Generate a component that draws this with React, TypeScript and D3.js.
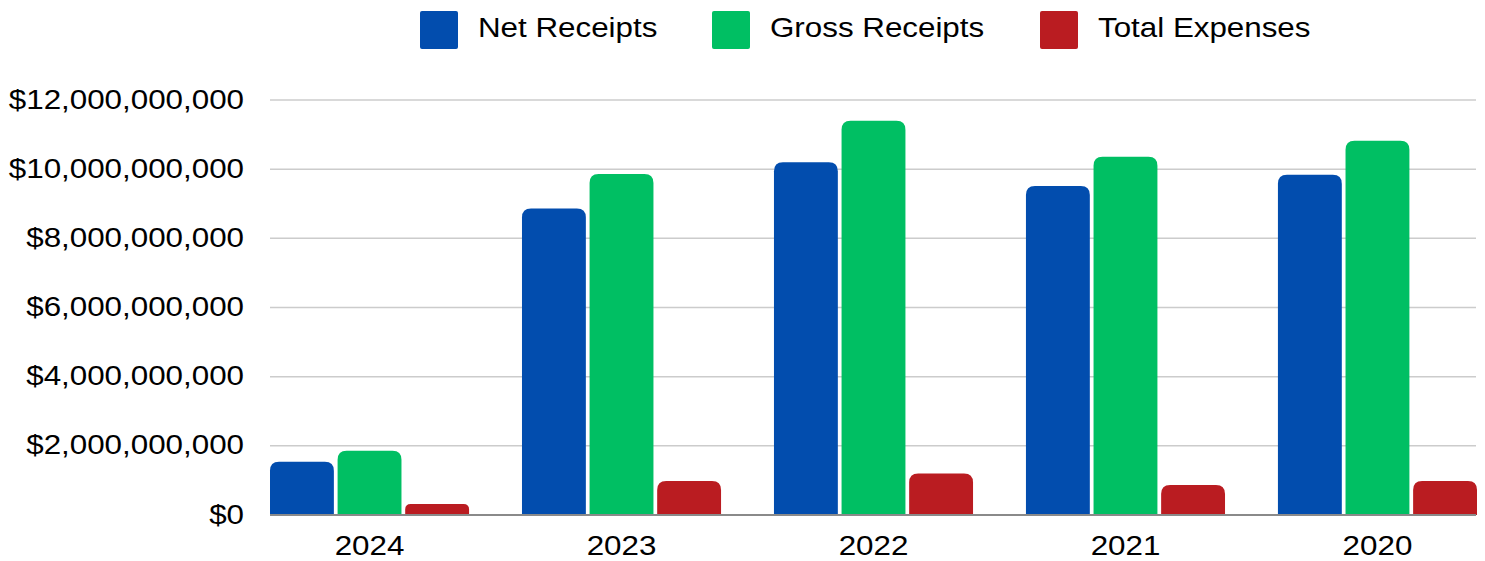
import React from "react";
import * as d3 from "d3";

const years = ["2024", "2023", "2022", "2021", "2020"];
const seriesNames = ["Net Receipts", "Gross Receipts", "Total Expenses"];
const seriesColors = ["#024DAE", "#00BF63", "#BA1C21"];
const netReceipts = [1.54e9, 8.86e9, 10.2e9, 9.51e9, 9.84e9];
const grossReceipts = [1.86e9, 9.86e9, 11.4e9, 10.36e9, 10.82e9];
const totalExpenses = [0.32e9, 0.98e9, 1.2e9, 0.87e9, 0.98e9];
const yTicks = [0, 2e9, 4e9, 6e9, 8e9, 10e9, 12e9];

const W = 1485;
const H = 561;
const left = 270;
const right = 1477;
const top = 100;
const bottom = 515;
const FONT = "'Liberation Sans', Arial, Helvetica, sans-serif";
const FS = 28.5;
const SX = 1.1;

function topRounded(x: number, y: number, w: number, h: number, r: number) {
  const rr = Math.min(r, h / 2, w / 2);
  return `M${x},${y + h}V${y + rr}Q${x},${y} ${x + rr},${y}H${x + w - rr}Q${x + w},${y} ${x + w},${y + rr}V${y + h}Z`;
}

export default function App() {
  const series = [netReceipts, grossReceipts, totalExpenses];
  const x0 = d3.scaleBand<string>().domain(years).range([left, right]).paddingInner(0.21).paddingOuter(0);
  const x1 = d3.scaleBand<number>().domain([0, 1, 2]).range([0, x0.bandwidth()]).paddingInner(0.055).paddingOuter(0);
  const y = d3.scaleLinear().domain([0, 12e9]).range([bottom, top]);
  const fmt = (v: number) => "$" + d3.format(",")(v);

  const legendX = [420, 712, 1040];

  return (
    <svg width={W} height={H} style={{ position: "absolute", left: 0, top: 0, background: "#fff" }} fontFamily={FONT}>
      {yTicks.map((t) => (
        <g key={t}>
          {t !== 0 && (
            <line x1={left} x2={1476} y1={y(t)} y2={y(t)} stroke="#cccccc" strokeWidth={1.5} />
          )}
          <text
            transform={`translate(244,${y(t) + 8.5}) scale(${SX},1)`}
            textAnchor="end"
            fontSize={FS}
            fill="#000"
          >
            {fmt(t)}
          </text>
        </g>
      ))}
      {years.map((yr, i) => (
        <g key={yr} transform={`translate(${x0(yr)},0)`}>
          {series.map((s, j) => {
            const v = s[i];
            const yy = y(v);
            return (
              <path key={j} d={topRounded(x1(j)!, yy, x1.bandwidth(), bottom - yy, 9)} fill={seriesColors[j]} />
            );
          })}
          <text
            transform={`translate(${x0.bandwidth() / 2},555) scale(${SX},1)`}
            textAnchor="middle"
            fontSize={FS}
            fill="#000"
          >
            {yr}
          </text>
        </g>
      ))}
      <line x1={left} x2={1476} y1={bottom} y2={bottom} stroke="#8a8a8a" strokeWidth={2} />
      {seriesNames.map((n, j) => (
        <g key={n} transform={`translate(${legendX[j]},11)`}>
          <rect width={38} height={38} rx={2} fill={seriesColors[j]} />
          <text transform={`translate(58,26) scale(${SX},1)`} fontSize={FS} fill="#000">
            {n}
          </text>
        </g>
      ))}
    </svg>
  );
}
